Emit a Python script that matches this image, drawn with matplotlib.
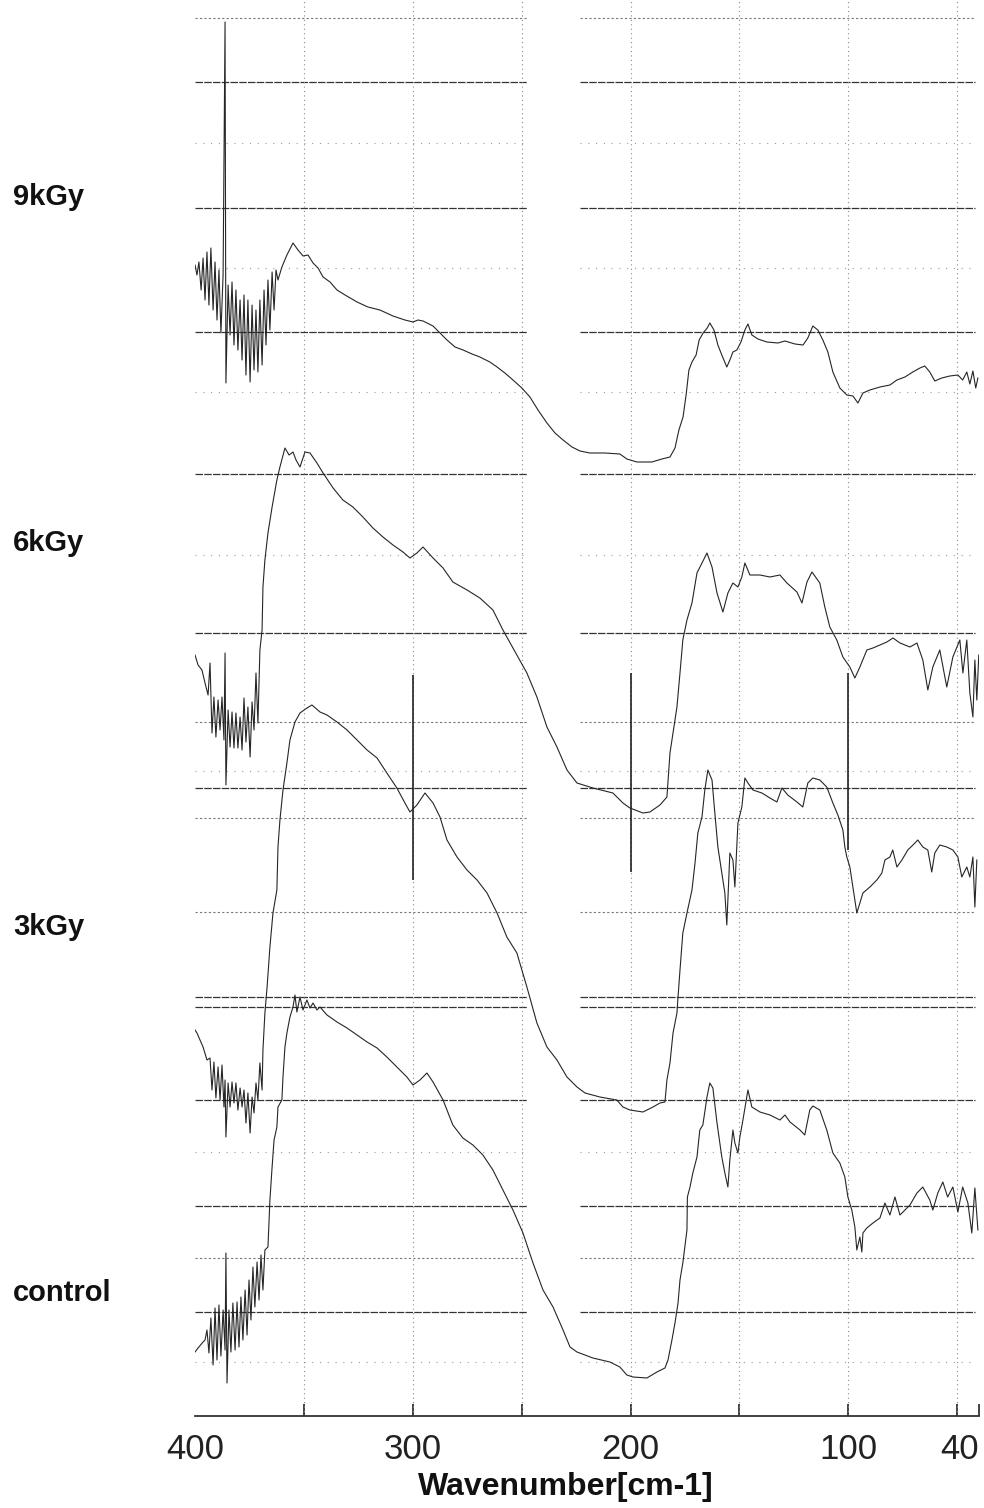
import matplotlib
matplotlib.use("Agg")
import matplotlib.pyplot as plt

plt.rcParams["font.family"] = ["Liberation Sans", "DejaVu Sans"]

# stacked far-IR spectra, offset intensity (arbitrary units)
W_9KGY = [400.0, 399.1, 398.2, 397.2, 396.3, 395.4, 394.5, 393.6, 392.7, 391.7, 390.8, 389.9, 389.0, 388.1,
          387.1, 386.2, 385.8, 384.8, 383.9, 383.0, 382.1, 381.2, 380.3, 379.3, 378.4, 377.5, 376.6, 375.7,
          374.7, 373.8, 372.9, 372.0, 371.1, 370.2, 369.2, 368.3, 367.4, 366.5, 365.6, 364.6, 363.7, 362.8,
          361.9, 360.1, 357.8, 355.0, 352.7, 350.4, 348.1, 345.8, 343.5, 341.2, 338.0, 334.8, 331.1, 325.6,
          320.6, 315.1, 309.1, 303.6, 299.9, 297.6, 295.3, 290.7, 287.5, 284.3, 280.6, 276.9, 272.8, 269.2,
          264.6, 261.3, 257.7, 254.0, 249.9, 246.2, 242.5, 238.4, 234.7, 231.0, 226.9, 223.2, 218.7, 211.8,
          204.9, 201.7, 197.1, 190.2, 185.6, 181.9, 179.6, 177.8, 175.9, 174.5, 173.2, 171.8, 169.9, 168.5,
          166.7, 164.8, 163.6, 161.7, 159.9, 158.1, 155.8, 154.4, 153.0, 151.2, 149.3, 147.5, 146.1, 144.3,
          141.5, 137.4, 132.3, 129.1, 124.5, 120.8, 118.6, 116.3, 114.0, 111.7, 109.4, 107.1, 103.9, 100.7,
          97.9, 95.6, 93.3, 90.1, 85.5, 80.9, 77.7, 74.0, 70.4, 67.1, 64.9, 62.6, 60.3, 57.1, 53.4, 49.7,
          47.5, 45.6, 44.2, 42.8, 41.5, 40.5]
I_9KGY = [1151, 1141, 1154, 1126, 1158, 1116, 1164, 1111, 1168, 1106, 1154, 1096, 1146, 1083,
          1141, 1394, 1033, 1131, 1081, 1134, 1071, 1126, 1066, 1116, 1056, 1121, 1041, 1116,
          1034, 1111, 1046, 1106, 1044, 1116, 1051, 1126, 1071, 1136, 1086, 1144, 1106, 1146,
          1136, 1149, 1161, 1173, 1166, 1160, 1161, 1153, 1148, 1139, 1134, 1126, 1121, 1114,
          1109, 1106, 1100, 1096, 1094, 1096, 1095, 1090, 1083, 1076, 1069, 1066, 1062, 1059,
          1054, 1049, 1043, 1036, 1028, 1019, 1006, 993, 983, 976, 969, 965, 963, 963,
          962, 957, 954, 954, 957, 959, 968, 986, 999, 1021, 1046, 1054, 1061, 1076,
          1083, 1088, 1093, 1086, 1071, 1061, 1049, 1056, 1064, 1066, 1074, 1086, 1092, 1081,
          1077, 1074, 1073, 1075, 1072, 1071, 1078, 1090, 1086, 1076, 1064, 1044, 1028, 1021,
          1020, 1013, 1023, 1026, 1029, 1031, 1036, 1039, 1044, 1048, 1050, 1044, 1035, 1038, 1040, 1041,
          1036, 1044, 1032, 1045, 1028, 1038]

W_6KGY = [400.0, 398.6, 396.8, 395.4, 394.0, 393.1, 392.2, 391.3, 390.4, 389.4, 388.5, 387.6, 386.7, 386.2,
          385.8, 384.8, 383.9, 383.0, 382.1, 381.2, 380.3, 379.3, 378.4, 377.5, 376.6, 375.7, 374.7, 373.8,
          372.9, 372.0, 371.1, 370.2, 369.2, 368.8, 367.9, 366.5, 364.6, 362.4, 361.0, 358.7, 356.8, 355.0,
          353.6, 351.8, 349.5, 347.2, 344.0, 341.2, 336.6, 332.1, 327.5, 322.9, 318.3, 313.7, 309.1, 304.5,
          301.3, 298.1, 295.3, 290.7, 286.1, 281.6, 275.1, 269.2, 263.2, 258.6, 254.0, 247.6, 243.0, 238.4,
          233.8, 229.2, 224.6, 217.3, 208.1, 203.5, 200.3, 194.3, 191.1, 186.5, 183.3, 181.9, 178.7, 177.3,
          176.0, 174.1, 171.8, 169.5, 167.2, 164.9, 162.6, 160.3, 157.6, 155.3, 153.0, 150.7, 148.9, 147.5,
          145.2, 140.6, 136.0, 131.4, 128.2, 123.6, 121.3, 119.0, 116.7, 113.1, 110.8, 108.5, 105.3, 102.5,
          99.3, 97.0, 94.7, 91.5, 88.7, 85.5, 82.3, 79.5, 76.3, 71.7, 68.5, 65.8, 63.5, 61.2, 58.0, 54.8,
          52.0, 48.8, 47.4, 45.6, 44.2, 42.8, 41.9, 41.0, 40.1]
I_6KGY = [761, 751, 746, 733, 721, 753, 683, 719, 679, 716, 686, 719, 676, 763,
          631, 706, 669, 704, 668, 703, 668, 699, 666, 718, 674, 709, 659, 714,
          686, 743, 693, 766, 786, 829, 856, 883, 909, 936, 949, 968, 961, 964,
          956, 949, 964, 963, 953, 943, 928, 916, 909, 899, 888, 879, 871, 864,
          858, 863, 869, 858, 848, 834, 826, 818, 806, 786, 768, 743, 719, 689,
          669, 646, 633, 628, 623, 613, 608, 603, 604, 611, 619, 663, 709, 743,
          776, 796, 813, 843, 853, 863, 849, 823, 804, 823, 833, 829, 839, 853,
          841, 841, 839, 841, 833, 824, 813, 834, 844, 833, 809, 789, 776, 759,
          749, 738, 749, 766, 768, 771, 774, 778, 773, 769, 773, 756, 726, 749, 766, 729,
          759, 776, 743, 776, 723, 699, 756, 716, 761]

W_3KGY = [400.0, 399.1, 397.7, 396.3, 394.5, 393.1, 392.2, 391.3, 390.4, 389.4, 388.5, 387.6, 386.7, 386.2,
          385.8, 384.8, 383.9, 383.0, 382.1, 381.2, 380.3, 379.3, 378.4, 377.5, 376.6, 375.7, 374.7, 373.8,
          372.9, 372.0, 371.1, 370.2, 369.2, 368.8, 367.9, 366.9, 365.6, 364.2, 362.4, 361.9, 361.0, 359.6,
          357.8, 356.4, 354.1, 351.8, 348.6, 346.3, 342.6, 339.4, 334.8, 330.2, 325.6, 321.0, 316.4, 311.9,
          307.3, 303.6, 301.3, 298.1, 294.4, 290.7, 287.5, 284.3, 279.7, 275.1, 270.5, 265.9, 261.3, 256.8,
          252.2, 247.6, 243.0, 238.4, 233.8, 229.2, 224.6, 220.9, 214.1, 206.3, 203.5, 200.3, 194.3, 189.7,
          186.5, 184.2, 183.3, 181.9, 180.5, 178.7, 178.2, 177.3, 176.0, 174.1, 171.8, 170.4, 169.1, 167.2,
          165.9, 164.5, 162.6, 161.3, 159.9, 158.1, 156.7, 155.8, 154.4, 153.0, 152.1, 150.7, 148.9, 147.5,
          146.1, 143.8, 139.7, 136.0, 132.8, 130.5, 127.8, 123.6, 120.9, 118.6, 116.3, 113.1, 109.9, 107.1,
          104.8, 102.5, 101.6, 100.7, 99.3, 97.9, 96.1, 94.7, 93.3, 90.1, 86.9, 84.6, 83.2, 80.9, 79.6,
          77.7, 75.4, 72.7, 69.4, 68.1, 65.8, 63.5, 61.7, 60.3, 58.0, 54.8, 52.0, 49.7, 47.9, 45.6, 44.2,
          42.8, 41.9, 41.0]
I_3KGY = [386, 383, 376, 369, 356, 358, 326, 354, 318, 349, 316, 351, 309, 336,
          279, 333, 309, 334, 313, 333, 306, 328, 309, 326, 293, 323, 283, 319,
          303, 333, 316, 353, 326, 366, 403, 429, 469, 503, 526, 569, 596, 626,
          653, 676, 694, 703, 708, 711, 704, 701, 694, 686, 676, 666, 658, 643,
          628, 613, 604, 611, 623, 613, 599, 576, 559, 546, 536, 523, 503, 479,
          463, 429, 393, 369, 356, 339, 329, 323, 319, 316, 309, 306, 304, 309,
          313, 314, 336, 353, 383, 403, 419, 446, 483, 503, 526, 553, 583, 599,
          626, 646, 636, 603, 569, 543, 523, 491, 563, 556, 529, 593, 609, 638,
          633, 626, 623, 618, 614, 628, 621, 614, 609, 633, 638, 636, 629, 613,
          601, 586, 569, 559, 549, 529, 503, 513, 523, 529, 536, 543, 556, 559, 566,
          549, 556, 566, 573, 576, 569, 566, 544, 563, 571, 569, 566, 559, 539, 549, 539,
          559, 509, 556]

W_CONTROL = [400.0, 398.6, 396.3, 395.4, 394.5, 393.6, 392.7, 391.7, 390.8, 389.9, 389.0, 388.1, 387.1, 386.2,
             385.8, 385.3, 384.4, 383.5, 382.6, 381.6, 380.7, 379.8, 378.9, 378.0, 377.0, 376.1, 375.2, 374.3,
             373.4, 372.5, 371.5, 370.6, 369.7, 368.8, 367.9, 366.5, 365.6, 364.6, 363.7, 362.4, 361.9, 360.1,
             359.6, 358.7, 357.8, 356.4, 355.0, 354.1, 353.2, 351.8, 350.4, 348.6, 347.2, 345.8, 344.0, 342.6,
             339.4, 334.8, 330.2, 325.6, 321.0, 316.4, 311.9, 307.3, 302.7, 299.9, 296.7, 293.5, 290.7, 286.1,
             281.6, 277.0, 272.4, 267.8, 263.2, 258.6, 254.0, 249.4, 244.8, 240.2, 235.6, 231.0, 227.8, 224.6,
             217.3, 209.5, 204.9, 201.7, 198.9, 192.5, 187.9, 184.2, 182.8, 181.0, 179.6, 178.2, 177.3, 176.0,
             174.1, 173.9, 172.7, 171.4, 169.5, 168.2, 166.8, 164.9, 163.6, 162.2, 160.3, 158.1, 156.7, 155.3,
             154.4, 153.0, 152.1, 150.7, 149.8, 148.4, 146.6, 146.1, 144.3, 140.6, 136.0, 131.4, 129.1, 126.8,
             122.2, 120.0, 117.7, 116.3, 113.1, 109.9, 107.1, 103.9, 101.6, 100.2, 98.4, 97.0, 96.1, 94.7, 93.8,
             93.3, 91.5, 88.7, 85.5, 83.2, 80.9, 78.6, 76.3, 74.0, 71.7, 68.5, 65.8, 62.6, 61.2, 58.9, 56.6,
             54.4, 52.0, 49.7, 47.5, 45.1, 43.3, 41.9, 40.5]
I_CONTROL = [64, 68, 74, 76, 86, 63, 98, 51, 108, 56, 111, 60, 106, 66,
             163, 33, 106, 64, 113, 66, 114, 69, 119, 76, 126, 81, 136, 96,
             149, 109, 154, 116, 161, 126, 166, 169, 216, 249, 276, 289, 309, 316,
             339, 369, 383, 399, 409, 421, 404, 419, 406, 416, 408, 413, 406, 409,
             401, 394, 388, 381, 374, 368, 359, 349, 339, 331, 336, 343, 334, 316,
             291, 278, 271, 261, 246, 226, 206, 183, 153, 126, 109, 86, 69, 64,
             58, 54, 49, 41, 39, 38, 44, 48, 56, 76, 93, 113, 136, 153,
             186, 219, 229, 243, 259, 286, 291, 319, 333, 328, 293, 259, 243, 229,
             256, 286, 273, 263, 279, 296, 319, 326, 309, 304, 301, 296, 301, 294,
             286, 281, 306, 310, 306, 286, 263, 253, 239, 219, 206, 189, 166, 179, 164,
             183, 188, 193, 198, 213, 201, 219, 201, 206, 211, 223, 229, 216, 206, 223, 234,
             219, 229, 204, 229, 213, 183, 228, 186]

SERIES = [("9kGy", W_9KGY, I_9KGY), ("6kGy", W_6KGY, I_6KGY),
          ("3kGy", W_3KGY, I_3KGY), ("control", W_CONTROL, I_CONTROL)]
LABEL_LEVELS = [1219, 873, 489, 123]

# chart-recorder grid (same intensity units)
GRID_DARK = [1334, 1208, 1084, 942, 783, 628, 419, 409, 316, 210, 104]
GRID_MID = [1398, 694, 598, 504, 158]
GRID_LIGHT = [1273, 1148, 1024, 861, 645, 264, 54]
GRID_V = [350, 300, 250, 200, 150, 100, 50]
MARKER_V = [(300, 536, 741), (200, 544, 743), (100, 566, 743)]
LEFT_SPAN = (400, 247.5)
RIGHT_SPAN = (223, 42)

TICKS = [400, 350, 300, 250, 200, 150, 100, 50, 40]
TICK_LABELS = ["400", "", "300", "", "200", "", "100", "", "40"]

fig = plt.figure(figsize=(9.84, 15.08), dpi=100)
ax = fig.add_axes([195 / 984, 92 / 1508, 784 / 984, 1416 / 1508])
ax.set_xlim(400, 40)
ax.set_ylim(0, 1416)

for span in (LEFT_SPAN, RIGHT_SPAN):
    ax.hlines(GRID_DARK, span[0], span[1], colors="#333333", linewidth=0.9, linestyles=(0, (6, 1)))
    ax.hlines(GRID_MID, span[0], span[1], colors="#777777", linewidth=0.8, linestyles=(0, (2, 2)))
    ax.hlines(GRID_LIGHT, span[0], span[1], colors="#9a9a9a", linewidth=0.8, linestyles=(0, (1, 6)))
ax.vlines(GRID_V, 0, 1416, colors="#8a8a8a", linewidth=0.8, linestyles=(0, (1, 3)))
for w, lo, hi in MARKER_V:
    ax.vlines(w, lo, hi, colors="#222222", linewidth=1.2)

for name, w, inten in SERIES:
    ax.plot(w, inten, color="#262626", linewidth=0.8)

for sp in ("top", "left", "right"):
    ax.spines[sp].set_visible(False)
ax.spines["bottom"].set_linewidth(1.3)
ax.spines["bottom"].set_color("#333333")
ax.set_yticks([])
ax.set_xticks(TICKS)
ax.set_xticklabels(TICK_LABELS, fontsize=25)
ax.tick_params(axis="x", direction="in", length=9, width=1.2, pad=12, colors="#222222")
ax.xaxis.get_major_ticks()[0].tick1line.set_visible(False)
ax.get_xticklabels()[-1].set_horizontalalignment("right")

for (name, _, _), lvl in zip(SERIES, LABEL_LEVELS):
    fig.text(13 / 984, lvl / 1508 + 92 / 1508, name, fontsize=21, fontweight="bold",
             ha="left", va="center", color="#111111")

fig.text(566 / 984, 1 - 1487 / 1508, "Wavenumber[cm-1]", fontsize=23, fontweight="bold",
         ha="center", va="center", color="#111111")

fig.savefig("out.png", dpi=100)
